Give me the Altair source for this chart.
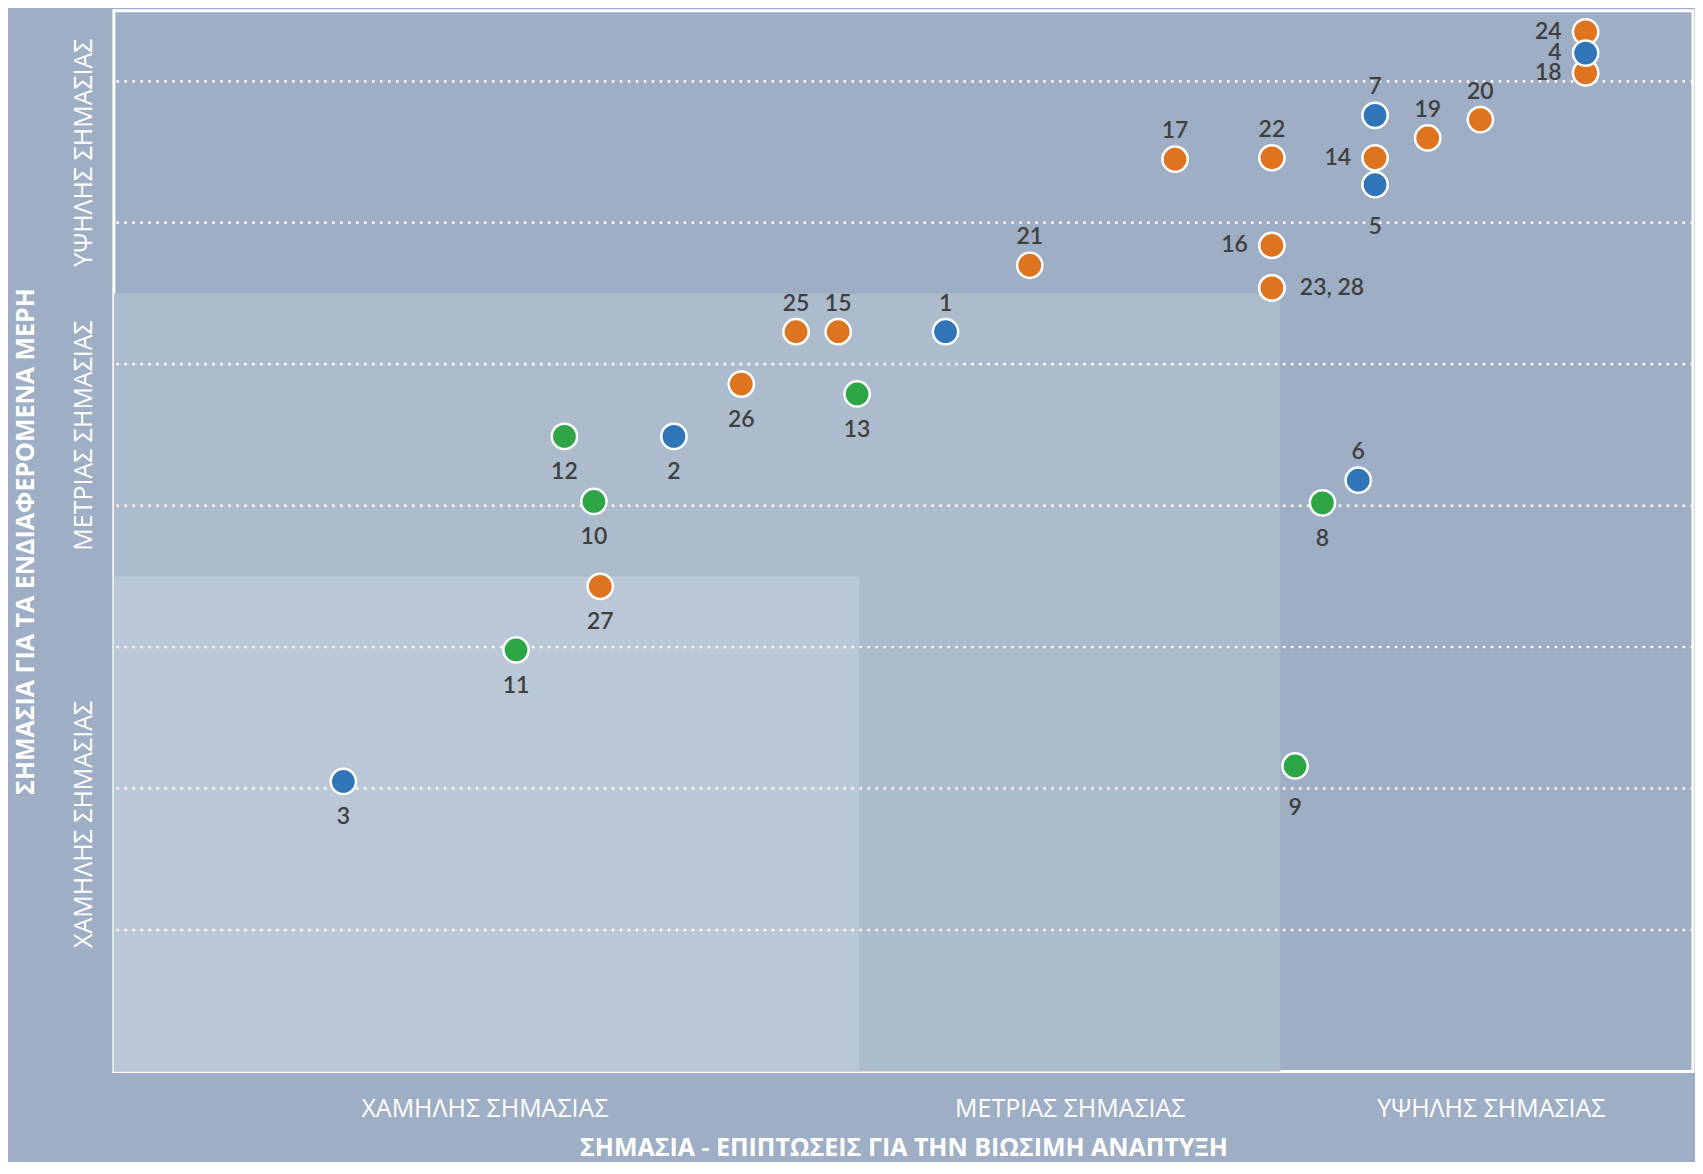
import altair as alt
import pandas as pd

# ---- data ----
ids = list(range(1, 29))
point_labels = ["1", "2", "3", "4", "5", "6", "7", "8", "9", "10", "11", "12", "13", "14",
                "15", "16", "17", "18", "19", "20", "21", "22", "23, 28", "24", "25", "26", "27", ""]
x_vals = [3.91, 2.62, 1.05, 6.95, 5.95, 5.87, 5.95, 5.70, 5.57, 2.24, 1.87, 2.10, 3.49, 5.95,
          3.40, 5.46, 5.00, 6.95, 6.20, 6.45, 4.31, 5.46, 5.46, 6.95, 3.20, 2.94, 2.27, 5.46]
y_vals = [5.23, 4.49, 2.05, 7.20, 6.27, 4.18, 6.76, 4.02, 2.16, 4.03, 2.98, 4.49, 4.79, 6.46,
          5.23, 5.84, 6.45, 7.06, 6.60, 6.73, 5.70, 6.46, 5.54, 7.35, 5.23, 4.86, 3.43, 5.54]
groups = ["Α", "Α", "Α", "Α", "Α", "Α", "Α",
          "Β", "Β", "Β", "Β", "Β", "Β",
          "Γ", "Γ", "Γ", "Γ", "Γ", "Γ", "Γ", "Γ", "Γ", "Γ", "Γ", "Γ", "Γ", "Γ", "Γ"]
label_pos = ["top", "bottom", "bottom", "left", "bottom_far", "top", "top", "bottom", "bottom_far",
             "bottom", "bottom", "bottom", "bottom", "left", "top", "left", "top", "left", "top",
             "top", "top", "top", "right", "left", "top", "bottom", "bottom", "none"]

level_labels = ["ΧΑΜΗΛΗΣ ΣΗΜΑΣΙΑΣ", "ΜΕΤΡΙΑΣ ΣΗΜΑΣΙΑΣ", "ΥΨΗΛΗΣ ΣΗΜΑΣΙΑΣ"]
x_label_centers = [1.72, 4.5, 6.5]
y_label_centers = [1.75, 4.5, 6.5]
zone_names = ["medium", "low"]
zone_ends = [5.5, 3.5]
grid_values = [1, 2, 3, 4, 5, 6, 7]
x_domain = [-0.04, 7.46]
y_domain = [0, 7.5]

x_title = "ΣΗΜΑΣΙΑ - ΕΠΙΠΤΩΣΕΙΣ ΓΙΑ ΤΗΝ ΒΙΩΣΙΜΗ ΑΝΑΠΤΥΞΗ"
y_title = "ΣΗΜΑΣΙΑ ΓΙΑ ΤΑ ΕΝΔΙΑΦΕΡΟΜΕΝΑ ΜΕΡΗ"

pts = pd.DataFrame({"id": ids, "label": point_labels, "x": x_vals, "y": y_vals,
                    "group": groups, "pos": label_pos})
zones = pd.DataFrame({"zone": zone_names, "end": zone_ends})
grid = pd.DataFrame({"v": grid_values})

BG = "#9eafc5"
W, H = 1581, 1062


def label_expr(values, names):
    expr = "''"
    for v, n in reversed(list(zip(values, names))):
        expr = f"datum.value == {v} ? '{n}' : ({expr})"
    return expr


xscale = alt.Scale(domain=x_domain, nice=False, zero=False)
yscale = alt.Scale(domain=y_domain, nice=False, zero=False)

x_axis = alt.Axis(values=x_label_centers, labelExpr=label_expr(x_label_centers, level_labels),
                  grid=False, domain=False, ticks=False, tickSize=0, labelLimit=0,
                  labelFont="Open Sans", labelFontSize=25, labelColor="white",
                  labelPadding=37, labelBaseline="middle", labelAlign="center",
                  title=x_title, titleFont="Open Sans", titleFontSize=25,
                  titleFontWeight="bold", titleColor="white", titleLimit=0,
                  titleX=W / 2, titleY=84, titleAlign="center", titleBaseline="alphabetic",
                  labelFlush=False, labelOverlap=False)
y_axis = alt.Axis(values=y_label_centers, labelExpr=label_expr(y_label_centers, level_labels),
                  grid=False, domain=False, ticks=False, tickSize=0, labelLimit=0,
                  labelFont="Open Sans", labelFontSize=25, labelColor="white",
                  labelAngle=270, labelPadding=30, labelBaseline="middle", labelAlign="center",
                  title=y_title, titleFont="Open Sans", titleFontSize=25,
                  titleFontWeight="bold", titleColor="white", titleAngle=270, titleLimit=0,
                  titleX=-88, titleY=H / 2, titleAlign="center", titleBaseline="middle",
                  labelFlush=False, labelOverlap=False)

zone_layer = alt.Chart(zones).mark_rect().encode(
    x=alt.X("start:Q", scale=xscale, axis=x_axis),
    x2="end:Q",
    y=alt.Y("ystart:Q", scale=yscale, axis=y_axis),
    y2="end:Q",
    fill=alt.Fill("zone:N", scale=alt.Scale(domain=zone_names, range=["#acbccd", "#b9c7d6"]),
                  legend=None),
).transform_calculate(start=str(x_domain[0]), ystart=str(y_domain[0]))

grid_layer = alt.Chart(grid).mark_rule(color="white", strokeWidth=2.5, strokeDash=[2.5, 5.5]).encode(
    y=alt.Y("v:Q", scale=yscale)
)

point_layer = alt.Chart(pts).mark_circle(size=640, opacity=1, stroke="white", strokeWidth=2.5).encode(
    x=alt.X("x:Q", scale=xscale),
    y=alt.Y("y:Q", scale=yscale),
    fill=alt.Fill("group:N", scale=alt.Scale(domain=["Α", "Β", "Γ"],
                                             range=["#2f75b7", "#2ea646", "#df7420"]),
                  legend=None),
    order=alt.Order("draw:Q"),
).transform_calculate(draw="datum.group == 'Γ' ? 1 : (datum.group == 'Β' ? 2 : 3)")

offsets = {
    "top": dict(dy=-28, align="center"),
    "bottom": dict(dy=36, align="center"),
    "bottom_far": dict(dy=42, align="center"),
    "left": dict(dx=-24, align="right"),
    "right": dict(dx=28, align="left"),
}
text_layers = []
for pos, kw in offsets.items():
    text_layers.append(
        alt.Chart(pts).transform_filter(alt.datum.pos == pos).mark_text(
            font="Lato", fontSize=23, fontWeight=600, color="#3f3f3f", baseline="middle", **kw
        ).encode(
            x=alt.X("x:Q", scale=xscale),
            y=alt.Y("y:Q", scale=yscale),
            text="label:N",
        )
    )

chart = alt.layer(zone_layer, grid_layer, point_layer, *text_layers).resolve_scale(
    fill="independent"
).properties(
    width=W, height=H,
    autosize=alt.AutoSizeParams(type="none"),
    padding={"left": 106, "top": 2, "right": 2, "bottom": 90},
    background=BG,
).configure_view(
    stroke="white", strokeWidth=3
)

chart.save("out.html", embed_options={"renderer": "svg", "actions": False})
